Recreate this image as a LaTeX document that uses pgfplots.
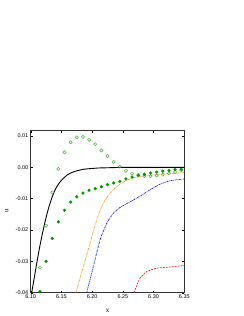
\documentclass[border=0pt]{standalone}
\usepackage{pgfplots}
\pgfplotsset{compat=1.18}
\usepackage{fontspec}
\setmainfont{Liberation Serif}
\newfontfamily\arial{Liberation Sans}
\definecolor{opengreen}{RGB}{70,175,60}
\definecolor{fillgreen}{RGB}{0,150,0}
\definecolor{myorange}{RGB}{255,140,0}
\begin{document}
\begin{tikzpicture}
\path[use as bounding box] (0,0) rectangle (244bp,316bp);
\begin{axis}[
  at={(30.7bp,23.3bp)}, anchor=south west,
  scale only axis, width=153.6bp, height=162bp,
  xmin=6.10, xmax=6.35, ymin=-0.04, ymax=0.0117,
  xtick={6.10,6.15,6.20,6.25,6.30,6.35},
  ytick={-0.04,-0.03,-0.02,-0.01,0.00,0.01},
  tick align=inside, ticks=major, major tick length=2bp,
  tick style={line width=0.4pt, black},
  axis line style={line width=0.6pt, black!80},
  /pgf/number format/assume math mode=true,
  xticklabel={\pgfmathprintnumber[fixed,fixed zerofill,precision=2]{\tick}},
  yticklabel={\pgfmathprintnumber[fixed,fixed zerofill,precision=2]{\tick}},
  scaled y ticks=false, scaled x ticks=false,
  ticklabel style={font=\arial\fontsize{5.5}{6}\selectfont},
  xticklabel style={yshift=2bp},
  yticklabel style={xshift=1bp},
  xlabel={x}, ylabel={u},
  label style={font=\fontsize{7}{8}\selectfont},
  xlabel style={at={(axis description cs:0.501,-0.110)}, anchor=center},
  ylabel style={at={(axis description cs:-0.156,0.506)}, anchor=center, rotate=0},
  clip=true,
]
\node[font=\fontsize{8}{9}\selectfont] at (axis description cs:0.039,1.0475) {(d)};
% black solid
\addplot[black, line width=0.9pt] coordinates {
(6.1016,-0.0400) (6.1060,-0.0350) (6.1098,-0.0306) (6.1140,-0.0260)
(6.1180,-0.0221) (6.1220,-0.0185) (6.1260,-0.0152) (6.1300,-0.0124)
(6.1340,-0.0099) (6.1380,-0.0079) (6.1423,-0.0062) (6.1475,-0.0047)
(6.1530,-0.0035) (6.1590,-0.0025) (6.1640,-0.0019) (6.1700,-0.0014) (6.1750,-0.0011)
(6.1860,-0.0006) (6.1966,-0.0004) (6.2100,-0.0002) (6.2300,-0.0001)
(6.2500,0.0) (6.3500,0.0)};
% orange dash-dot-dot
\addplot[myorange, line width=0.6pt, dash pattern=on 2pt off 0.8pt on 0.6pt off 0.8pt on 0.6pt off 0.8pt, smooth, tension=0.4] coordinates {
(6.1737,-0.0400) (6.1800,-0.0355) (6.1857,-0.0317) (6.1965,-0.0243)
(6.2074,-0.0168) (6.2180,-0.0115) (6.2290,-0.0083) (6.2400,-0.0062)
(6.2507,-0.0047) (6.2616,-0.0037) (6.2720,-0.0031) (6.2888,-0.0027)
(6.3104,-0.0022) (6.3320,-0.0019) (6.3500,-0.0016)};
% blue dash-dot
\addplot[blue, line width=0.6pt, dash pattern=on 2pt off 0.8pt on 0.6pt off 0.8pt, smooth, tension=0.4] coordinates {
(6.1911,-0.0400) (6.2019,-0.0317) (6.2128,-0.0232) (6.2237,-0.0179)
(6.2344,-0.0147) (6.2453,-0.0128) (6.2616,-0.0110) (6.2779,-0.0092)
(6.2940,-0.0072) (6.3104,-0.0054) (6.3267,-0.0043) (6.3400,-0.0039)
(6.3500,-0.0037)};
% red dashed
\addplot[red, line width=0.6pt, dash pattern=on 1.8pt off 1.2pt, smooth, tension=0.4] coordinates {
(6.2682,-0.0400) (6.2730,-0.0375) (6.2779,-0.0354) (6.2888,-0.0333)
(6.3050,-0.0322) (6.3267,-0.0318) (6.3500,-0.0313)};
% open circles
\addplot[only marks, mark=o, mark size=1.6bp, opengreen, line width=0.5pt] coordinates {
(6.115,-0.0320) (6.125,-0.0186) (6.135,-0.0080) (6.145,-0.0005)
(6.155,0.0048) (6.165,0.0080) (6.175,0.0096) (6.185,0.0097)
(6.195,0.0088) (6.205,0.0074) (6.215,0.0054) (6.225,0.0036)
(6.235,0.0017) (6.245,0.0002) (6.255,-0.0011) (6.265,-0.0020)
(6.275,-0.0024) (6.285,-0.0028) (6.295,-0.0028) (6.305,-0.0026)
(6.315,-0.0023) (6.325,-0.0019) (6.335,-0.0015) (6.345,-0.0009)};
% filled circles
\addplot[only marks, mark=*, mark size=1.4bp, fillgreen, mark options={fill=fillgreen, draw=fillgreen}] coordinates {
(6.115,-0.0396) (6.125,-0.0300) (6.135,-0.0227) (6.145,-0.0174)
(6.155,-0.0137) (6.165,-0.0111) (6.175,-0.0094) (6.185,-0.0082)
(6.195,-0.0073) (6.205,-0.0068) (6.215,-0.0062) (6.225,-0.0055)
(6.235,-0.0050) (6.245,-0.0045) (6.255,-0.0037) (6.265,-0.0031)
(6.275,-0.0026) (6.285,-0.0022) (6.295,-0.0018) (6.305,-0.0015)
(6.315,-0.0012) (6.325,-0.0010) (6.335,-0.0007) (6.345,-0.0006)};
\end{axis}
\end{tikzpicture}
\end{document}
